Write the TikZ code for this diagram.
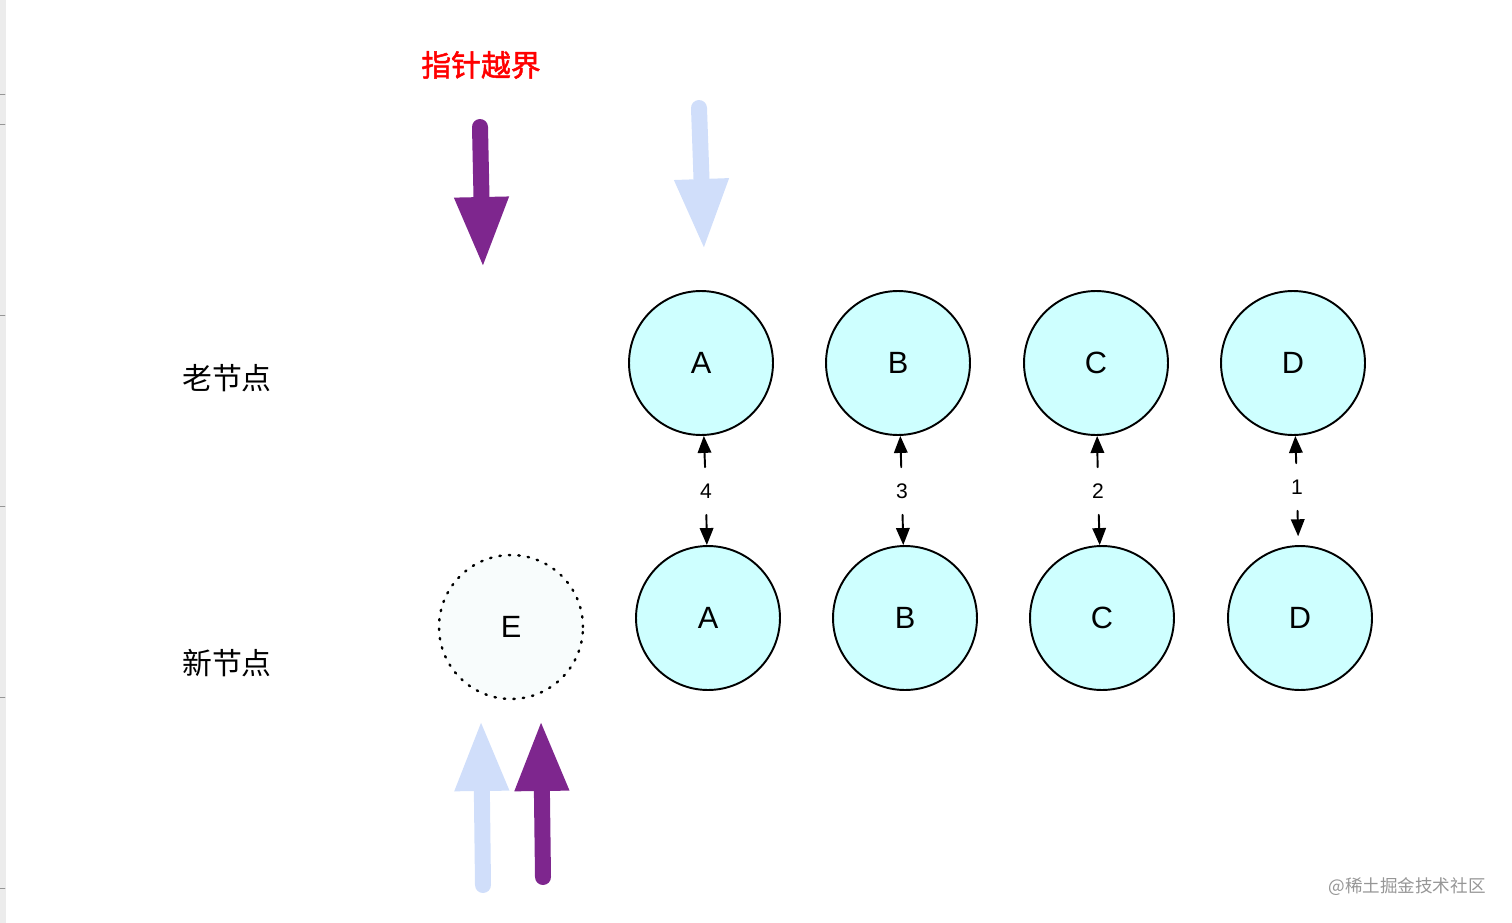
\documentclass[tikz,border=0pt]{standalone}
\usepackage{fontspec}
\setmainfont{Liberation Sans}
\newfontfamily\cjk{Noto Sans CJK SC}
\newfontfamily\cjkheavy[FakeBold=1.6]{Noto Sans CJK SC}
\usepackage{xcolor}
\usepackage{tikz}
\usetikzlibrary{arrows.meta}
\definecolor{ptrpurple}{RGB}{126,38,142}
\definecolor{ptrblue}{RGB}{208,222,250}
\definecolor{vnodecyan}{RGB}{206,255,255}
\definecolor{vnodeghost}{RGB}{248,252,252}
\definecolor{rulergray}{RGB}{236,236,236}
\definecolor{markgray}{RGB}{150,150,150}

\begin{document}
\begin{tikzpicture}[x=0.02cm, y=-0.02cm, line cap=round, line join=round,
   vnode/.style={circle, draw=black, line width=1.1pt, fill=vnodecyan, minimum size=2.88cm,
                 inner sep=0pt, font=\fontsize{17.5}{20}\selectfont},
   ghost/.style={vnode, fill=vnodeghost, line width=1.4pt, dash pattern=on 0.8pt off 4.6pt},
   cnt/.style={inner sep=0pt, minimum height=0.94cm, minimum width=0.4cm, font=\fontsize{12}{14}\selectfont},
   pair/.style={line width=1.1pt, -{Triangle[length=0.34cm,width=0.27cm]}},
   pointer/.style={line width=0.32cm, line cap=round, -{Triangle[length=1.42cm,width=1.0cm]}},
   side/.style={font=\cjk\fontsize{17}{20}\selectfont}]
   \path[use as bounding box] (0,0) rectangle (1512,923);
   % screenshot ruler strip on the left edge
   \fill[rulergray] (0,0) rectangle (6,923);
   \foreach \yy in {94,124,315,506,697,888}
      \draw[markgray, line width=0.5pt] (0,\yy) -- (5,\yy);

   % row labels
   \node[side] (oldrow) at (227,378) {老节点};
   \node[side] (newrow) at (227,663) {新节点};
   \node[font=\cjkheavy\fontsize{17}{20}\selectfont, text=red] (overflow) at (481,65) {指针越界};

   % old vnodes
   \node[vnode] (oldA) at (701,363) {A};
   \node[vnode] (oldB) at (898,363) {B};
   \node[vnode] (oldC) at (1096,363) {C};
   \node[vnode] (oldD) at (1293,363) {D};

   % new vnodes
   \node[ghost] (newE) at (511,627) {E};
   \node[vnode] (newA) at (708,618) {A};
   \node[vnode] (newB) at (905,618) {B};
   \node[vnode] (newC) at (1102,618) {C};
   \node[vnode] (newD) at (1300,618) {D};

   % comparison order
   \node[cnt] (cnt4) at (706,491) {4};
   \node[cnt] (cnt3) at (902,491) {3};
   \node[cnt] (cnt2) at (1098,491) {2};
   \node[cnt] (cnt1) at (1297,487) {1};
   \draw[pair] (cnt4) -- (oldA);
   \draw[pair] (cnt4) -- (newA);
   \draw[pair] (cnt3) -- (oldB);
   \draw[pair] (cnt3) -- (newB);
   \draw[pair] (cnt2) -- (oldC);
   \draw[pair] (cnt2) -- (newC);
   \draw[pair] (cnt1) -- (oldD);
   \draw[pair, shorten >=5pt] (cnt1) -- (newD);

   % pointers: old start/end, new start/end
   \coordinate (oldEndTail) at (480,127);
   \coordinate (oldEndTip) at (483,268);
   \coordinate (oldStartTail) at (699,108);
   \coordinate (oldStartTip) at (704,250);
   \coordinate (newStartTail) at (483,885);
   \coordinate (newStartTip) at (481,720);
   \coordinate (newEndTail) at (543,877);
   \coordinate (newEndTip) at (541,720);
   \draw[pointer, ptrpurple] (oldEndTail) -- (oldEndTip);
   \draw[pointer, ptrblue] (oldStartTail) -- (oldStartTip);
   \draw[pointer, ptrblue] (newStartTail) -- (newStartTip);
   \draw[pointer, ptrpurple] (newEndTail) -- (newEndTip);

   % watermark
   \node[font=\cjk\fontsize{10}{12}\selectfont, text=markgray] (mark) at (1407,887) {@稀土掘金技术社区};
\end{tikzpicture}
\end{document}
